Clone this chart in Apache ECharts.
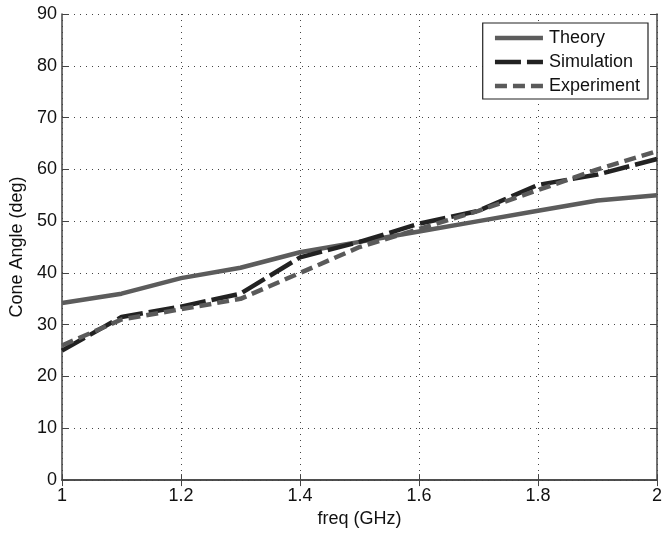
<!DOCTYPE html>
<html>
<head>
<meta charset="utf-8">
<script src="https://cdn.jsdelivr.net/npm/echarts@6/dist/echarts.min.js"></script>
<style>html,body{margin:0;padding:0;background:#fff}#c{width:665px;height:533px}</style>
</head>
<body>
<div id="c"></div>
<script>
var freq = [1.0, 1.1, 1.2, 1.3, 1.4, 1.5, 1.6, 1.7, 1.8, 1.9, 2.0];
var theory = [34.2, 36, 39, 41, 44, 46, 48, 50, 52, 54, 55];
var simulation = [25, 31.5, 33.5, 36, 43, 46, 49.5, 52, 57, 59, 62];
var experiment = [26, 31, 33, 35, 40, 45, 48.5, 52, 56, 60, 63.5];
var xTicks = [1, 1.2, 1.4, 1.6, 1.8, 2];
var yTicks = [0, 10, 20, 30, 40, 50, 60, 70, 80, 90];

function pairs(ys){ return freq.map(function(x,i){ return [x, ys[i]]; }); }
var font = 'Liberation Sans, Arial, sans-serif';
var chart = echarts.init(document.getElementById('c'));
chart.setOption({
  animation: false,
  backgroundColor: '#fff',
  grid: { left: 62, right: 6, top: 14, bottom: 48 },
  legend: {
    right: 17, top: 23, orient: 'vertical',
    backgroundColor: '#fff',
    borderColor: '#222', borderWidth: 1.2, borderRadius: 0,
    padding: [6, 8, 4, 10],
    itemWidth: 48, itemHeight: 14, itemGap: 6,
    itemStyle: { opacity: 0 },
    lineStyle: { width: 4.5 },
    textStyle: { fontFamily: font, fontSize: 18, color: '#111', padding: [0, 0, 0, 1] },
    data: ['Theory', 'Simulation', 'Experiment']
  },
  xAxis: [{
    type: 'value', min: 1, max: 2, interval: 0.2,
    name: 'freq (GHz)', nameLocation: 'middle', nameGap: 29,
    nameTextStyle: { fontFamily: font, fontSize: 18, color: '#111' },
    axisLine: { show: true, lineStyle: { color: '#444', width: 1.5 } },
    axisTick: { show: true, inside: true, length: 6, lineStyle: { color: '#444' } },
    axisLabel: { fontFamily: font, fontSize: 18, color: '#111', margin: 7,
      formatter: function(v){ return String(Math.round(v*10)/10); } },
    splitLine: { show: true, lineStyle: { color: '#444', type: [1, 5], width: 1 } }
  }, {
    type: 'value', min: 1, max: 2, interval: 0.2, position: 'top',
    axisLine: { show: true, lineStyle: { color: '#444', width: 1.5 } },
    axisTick: { show: true, inside: true, length: 6, lineStyle: { color: '#444' } },
    axisLabel: { show: false }, splitLine: { show: false }
  }],
  yAxis: [{
    type: 'value', min: 0, max: 90, interval: 10,
    name: 'Cone Angle (deg)', nameLocation: 'middle', nameGap: 34,
    nameTextStyle: { fontFamily: font, fontSize: 18, color: '#111' },
    axisLine: { show: true, lineStyle: { color: '#444', width: 1.5 } },
    axisTick: { show: true, inside: true, length: 6, lineStyle: { color: '#444' } },
    axisLabel: { fontFamily: font, fontSize: 18, color: '#111', margin: 5 },
    splitLine: { show: true, lineStyle: { color: '#444', type: [1, 5], width: 1 } }
  }, {
    type: 'value', min: 0, max: 90, interval: 10, position: 'right',
    axisLine: { show: true, lineStyle: { color: '#444', width: 1.5 } },
    axisTick: { show: true, inside: true, length: 6, lineStyle: { color: '#444' } },
    axisLabel: { show: false }, splitLine: { show: false }
  }],
  series: [{
    name: 'Theory', type: 'line', data: pairs(theory), symbol: 'none',
    itemStyle: { color: '#5c5c5c' },
    lineStyle: { color: '#5c5c5c', width: 4.5 }
  }, {
    name: 'Simulation', type: 'line', data: pairs(simulation), symbol: 'none',
    itemStyle: { color: '#222' },
    lineStyle: { color: '#222', width: 4.5, type: [26, 6] }
  }, {
    name: 'Experiment', type: 'line', data: pairs(experiment), symbol: 'none',
    itemStyle: { color: '#5a5a5a' },
    lineStyle: { color: '#5a5a5a', width: 4.5, type: [12, 6] }
  }]
});
</script>
</body>
</html>
